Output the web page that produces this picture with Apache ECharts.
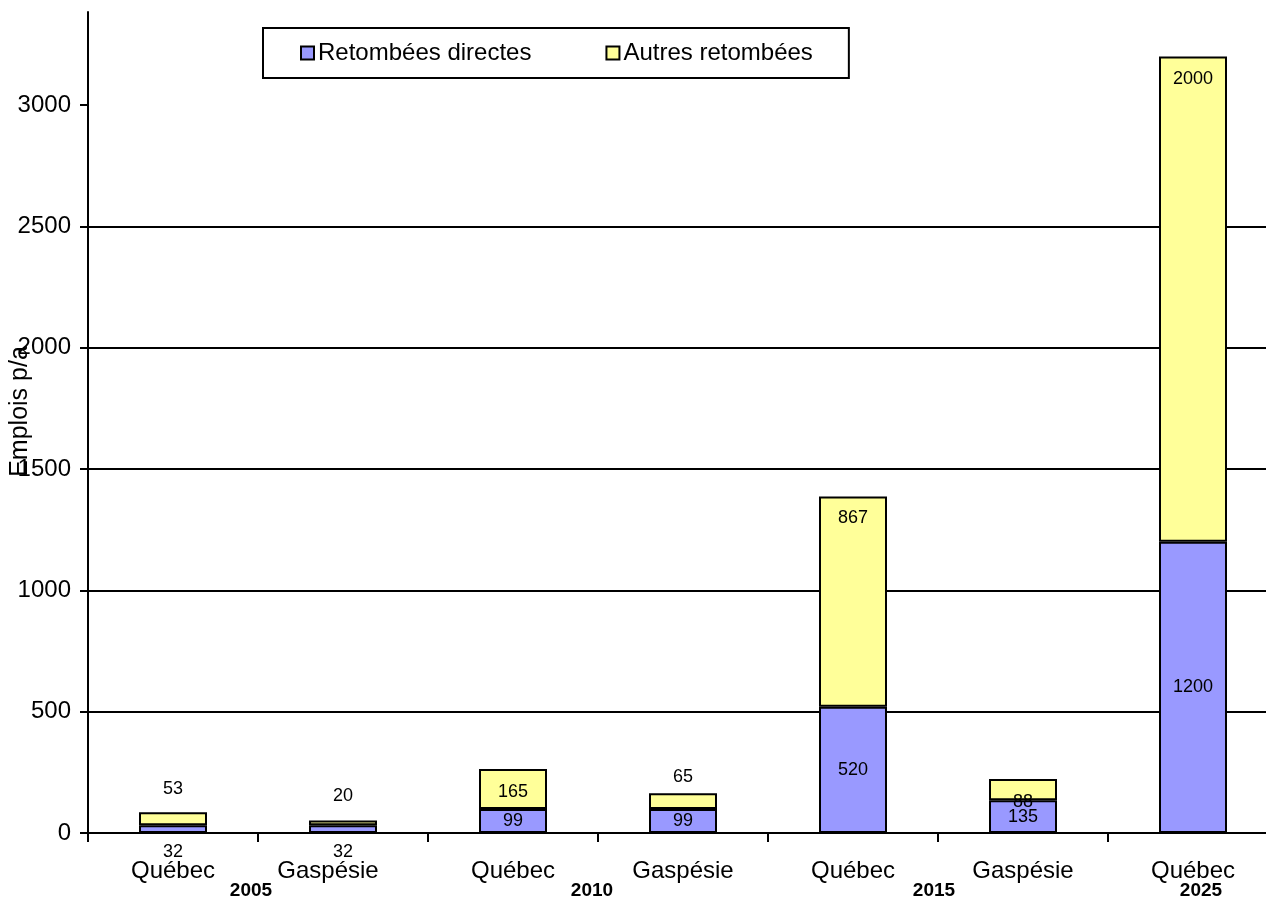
<!DOCTYPE html>
<html>
<head>
<meta charset="utf-8">
<style>
  html, body { margin: 0; padding: 0; background: #fff; }
  #chart { width: 1266px; height: 898px; }
</style>
<script src="https://cdn.jsdelivr.net/npm/echarts@6/dist/echarts.min.js"></script>
</head>
<body>
<div id="chart"></div>
<script>
// ---- data ----
const categories = ['Québec', 'Gaspésie', 'Québec', 'Gaspésie', 'Québec', 'Gaspésie', 'Québec'];
const years = ['2005', '2010', '2015', '2025'];
const yearFirstIndex = [0, 2, 4, 6];
const yearLastIndex = [1, 3, 5, 6];
const directValues = [32, 32, 99, 99, 520, 135, 1200];
const otherValues = [53, 20, 165, 65, 867, 88, 2000];
const yTicks = [0, 500, 1000, 1500, 2000, 2500, 3000];
const seriesNames = ['Retombées directes', 'Autres retombées'];

// ---- label placement (style, not data) ----
const directLabelCfg = [
  { position: 'bottom', distance: 10 },
  { position: 'bottom', distance: 10 },
  { position: 'inside' },
  { position: 'inside' },
  { position: 'inside' },
  { position: 'inside' },
  { position: 'inside' }
];
const otherLabelCfg = [
  { position: 'top', distance: 14 },
  { position: 'top', distance: 15 },
  { position: 'inside', offset: [0, 3] },
  { position: 'top', distance: 7 },
  { position: 'insideTop', distance: 13 },
  { position: 'inside', offset: [0, 12] },
  { position: 'insideTop', distance: 14 }
];
// category label extra left shift (px) per index
const catLabelShift = [0, 30, 0, 0, 0, 0, 0];

const FONT = '"Liberation Sans", Arial, sans-serif';
const chart = echarts.init(document.getElementById('chart'));

function makeData(values, cfg) {
  return values.map((v, i) => ({ value: v, label: Object.assign({}, cfg[i]) }));
}

const option = {
  animation: false,
  backgroundColor: '#ffffff',
  textStyle: { fontFamily: FONT, color: '#000' },
  grid: { left: 88, right: -12, top: 12, bottom: 65, containLabel: false, outerBoundsMode: 'none' },
  legend: {
    left: 263,
    top: 28,
    orient: 'horizontal',
    padding: [13, 36, 13, 37],
    itemGap: 74,
    itemWidth: 13,
    itemHeight: 13,
    icon: 'rect',
    borderColor: '#000',
    borderWidth: 2,
    backgroundColor: '#fff',
    textStyle: { fontSize: 24, color: '#000', fontFamily: FONT, padding: [0, 0, 0, -1] },
    data: seriesNames
  },
  xAxis: {
    type: 'category',
    data: categories,
    axisLine: { lineStyle: { color: '#000', width: 2 } },
    axisTick: { show: true, length: 9, lineStyle: { color: '#000', width: 2 }, alignWithLabel: false },
    axisLabel: {
      fontSize: 24, color: '#000', margin: 26, fontFamily: FONT, interval: 0,
      formatter: (v, i) => catLabelShift[i] ? '{s' + i + '|' + v + '}' : v,
      rich: Object.fromEntries(catLabelShift.map((s, i) => ['s' + i, { fontSize: 24, color: '#000', fontFamily: FONT, padding: [0, s, 0, 0] }]))
    },
    splitLine: { show: false }
  },
  yAxis: {
    type: 'value',
    min: 0,
    max: 3383,
    interval: 500,
    name: 'Emplois p/a',
    nameLocation: 'middle',
    nameGap: 55,
    nameMoveOverlap: false,
    nameRotate: 90,
    nameTextStyle: { fontSize: 25, color: '#000', fontFamily: FONT, padding: [0, 0, 0, 22] },
    axisLine: { show: true, lineStyle: { color: '#000', width: 2 } },
    axisTick: { show: true, length: 8, inside: false, lineStyle: { color: '#000', width: 2 }, customValues: yTicks },
    axisLabel: { fontSize: 24, color: '#000', margin: 17, fontFamily: FONT, customValues: yTicks, formatter: v => String(v) },
    splitLine: { show: true, showMaxLine: false, lineStyle: { color: '#000', width: 2 } }
  },
  series: [
    {
      name: seriesNames[0],
      type: 'bar',
      stack: 'total',
      barWidth: 68,
      data: makeData(directValues, directLabelCfg),
      itemStyle: { color: '#9999FF', borderColor: '#000', borderWidth: 2 },
      label: { show: true, fontSize: 18, color: '#000', fontFamily: FONT }
    },
    {
      name: seriesNames[1],
      type: 'bar',
      stack: 'total',
      barWidth: 68,
      data: makeData(otherValues, otherLabelCfg),
      itemStyle: { color: '#FFFF99', borderColor: '#000', borderWidth: 2 },
      label: { show: true, fontSize: 18, color: '#000', fontFamily: FONT }
    }
  ]
};

chart.setOption(option);

// year group labels placed through the category axis scale
const yearShift = [-7, -6, -4, 8];
const yearGraphics = years.map((yr, k) => {
  const x0 = chart.convertToPixel({ xAxisIndex: 0 }, yearFirstIndex[k]);
  const x1 = chart.convertToPixel({ xAxisIndex: 0 }, yearLastIndex[k]);
  const y0 = chart.convertToPixel({ yAxisIndex: 0 }, 0);
  return {
    type: 'text',
    x: (x0 + x1) / 2 + yearShift[k],
    y: y0 + 58,
    style: {
      text: yr,
      font: 'bold 19px ' + FONT,
      fill: '#000',
      align: 'center',
      verticalAlign: 'middle'
    }
  };
});
chart.setOption({ graphic: yearGraphics });
</script>
</body>
</html>
